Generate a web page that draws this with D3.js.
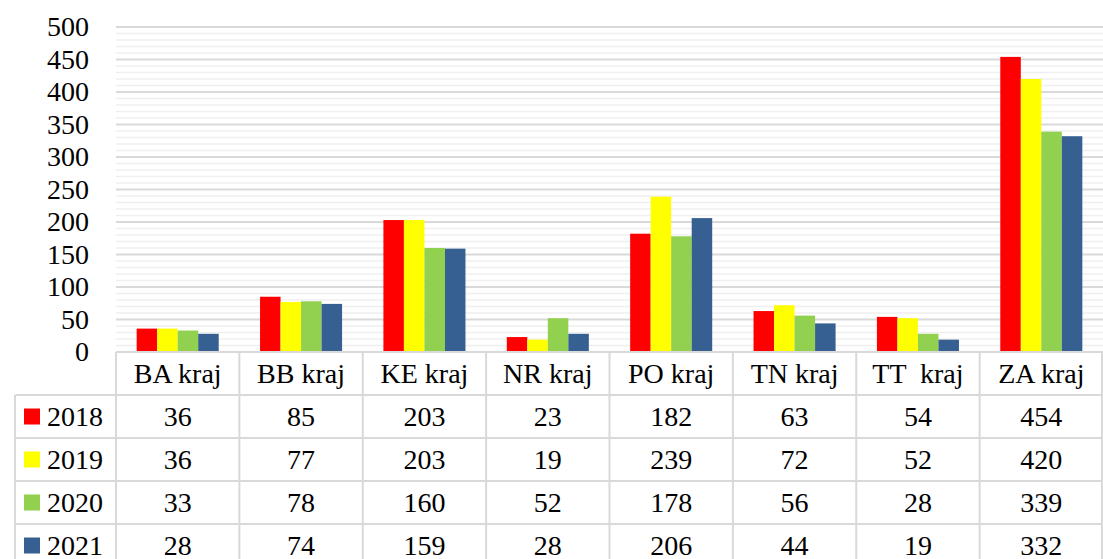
<!DOCTYPE html>
<html>
<head>
<meta charset="utf-8">
<script src="https://cdn.jsdelivr.net/npm/d3@7"></script>
<style>
  body { margin: 0; background: #fff; }
  svg text { font-family: "Liberation Serif", serif; fill: #000; }
</style>
</head>
<body>
<div id="chart"></div>
<script>
// data
var categories = ["BA kraj", "BB kraj", "KE kraj", "NR kraj", "PO kraj", "TN kraj", "TT  kraj", "ZA kraj"];
var years = ["2018", "2019", "2020", "2021"];
var values2018 = [36, 85, 203, 23, 182, 63, 54, 454];
var values2019 = [36, 77, 203, 19, 239, 72, 52, 420];
var values2020 = [33, 78, 160, 52, 178, 56, 28, 339];
var values2021 = [28, 74, 159, 28, 206, 44, 19, 332];
var yTicks = [0, 50, 100, 150, 200, 250, 300, 350, 400, 450, 500];
var colors = ["#ff0000", "#ffff00", "#92d050", "#376092"];

var series = [values2018, values2019, values2020, values2021];

var width = 1103, height = 559;
var plotLeft = 116, plotRight = 1103, plotTop = 27, plotBottom = 352;
var rowH = 43;
var fontFam = "Liberation Serif, serif";

var svg = d3.select("#chart").append("svg")
	.attr("width", width)
	.attr("height", height);

var x0 = d3.scaleBand().domain(categories).range([plotLeft, plotRight]);
var bw = x0.bandwidth();
var gap = bw * 0.335;
var x1 = d3.scaleBand().domain(years).range([gap / 2, bw - gap / 2]);
var y = d3.scaleLinear().domain([0, 500]).range([plotBottom, plotTop]);

//minor gridlines every 10
svg.append("g").selectAll("line")
	.data(y.ticks(50).filter(function(d) { return d % 50 != 0; }))
	.enter().append("line")
	.attr("x1", plotLeft).attr("x2", plotRight)
	.attr("y1", function(d) { return y(d); })
	.attr("y2", function(d) { return y(d); })
	.attr("stroke", "#efefef")
	.attr("stroke-width", 1.5);

//major gridlines
svg.append("g").selectAll("line")
	.data(yTicks.filter(function(d) { return d > 0; }))
	.enter().append("line")
	.attr("x1", plotLeft).attr("x2", plotRight)
	.attr("y1", function(d) { return y(d); })
	.attr("y2", function(d) { return y(d); })
	.attr("stroke", "#d9d9d9")
	.attr("stroke-width", 2);

//y axis labels
var yAxis = d3.axisLeft(y).tickValues(yTicks).tickSize(0).tickPadding(0);
var gy = svg.append("g").attr("transform", "translate(89,0)").call(yAxis);
gy.select(".domain").remove();
gy.selectAll("text")
	.attr("font-size", 28)
	.attr("font-family", fontFam)
	.attr("fill", "#000");

//bars
var groups = svg.append("g").selectAll("g")
	.data(categories)
	.enter().append("g")
	.attr("transform", function(d) { return "translate(" + x0(d) + ",0)"; });

groups.selectAll("rect")
	.data(function(d, i) {
		return years.map(function(yr, k) { return { year: yr, value: series[k][i], k: k }; });
	})
	.enter().append("rect")
	.attr("x", function(d) { return x1(d.year); })
	.attr("width", x1.bandwidth())
	.attr("y", function(d) { return y(d.value); })
	.attr("height", function(d) { return plotBottom - y(d.value); })
	.attr("fill", function(d) { return colors[d.k]; });

//data table
var rows = d3.scaleBand().domain(["head"].concat(years)).range([plotBottom, plotBottom + rowH * 5]);
var table = svg.append("g");
var lineColor = "#d9d9d9";

//horizontal table lines
table.append("line")
	.attr("x1", plotLeft).attr("x2", plotRight)
	.attr("y1", plotBottom).attr("y2", plotBottom)
	.attr("stroke", lineColor).attr("stroke-width", 2);
years.forEach(function(yr) {
	table.append("line")
		.attr("x1", 15).attr("x2", plotRight)
		.attr("y1", rows(yr)).attr("y2", rows(yr))
		.attr("stroke", lineColor).attr("stroke-width", 2);
});

//vertical table lines
categories.forEach(function(c) {
	table.append("line")
		.attr("x1", x0(c)).attr("x2", x0(c))
		.attr("y1", plotBottom).attr("y2", height)
		.attr("stroke", lineColor).attr("stroke-width", 2);
});
table.append("line")
	.attr("x1", plotRight - 1).attr("x2", plotRight - 1)
	.attr("y1", plotBottom).attr("y2", height)
	.attr("stroke", lineColor).attr("stroke-width", 2);
table.append("line")
	.attr("x1", 15).attr("x2", 15)
	.attr("y1", rows(years[0])).attr("y2", height)
	.attr("stroke", lineColor).attr("stroke-width", 2);

//category header
table.selectAll(".cat")
	.data(categories)
	.enter().append("text")
	.attr("x", function(d) { return x0(d) + bw / 2; })
	.attr("y", rows("head") + rowH / 2)
	.attr("dy", "0.35em")
	.attr("text-anchor", "middle")
	.attr("font-size", 28)
	.attr("font-family", fontFam)
	.style("white-space", "pre")
	.text(function(d) { return d; });

//legend keys, year labels and values
years.forEach(function(yr, k) {
	var cy = rows(yr) + rowH / 2;
	table.append("rect")
		.attr("x", 24).attr("y", cy - 8)
		.attr("width", 16).attr("height", 16)
		.attr("fill", colors[k]);
	table.append("text")
		.attr("x", 47).attr("y", cy)
		.attr("dy", "0.35em")
		.attr("font-size", 28)
		.attr("font-family", fontFam)
		.text(yr);
	table.selectAll(".v" + k)
		.data(series[k])
		.enter().append("text")
		.attr("x", function(d, i) { return x0(categories[i]) + bw / 2; })
		.attr("y", cy)
		.attr("dy", "0.35em")
		.attr("text-anchor", "middle")
		.attr("font-size", 28)
		.attr("font-family", fontFam)
		.text(function(d) { return d; });
});
</script>
</body>
</html>
